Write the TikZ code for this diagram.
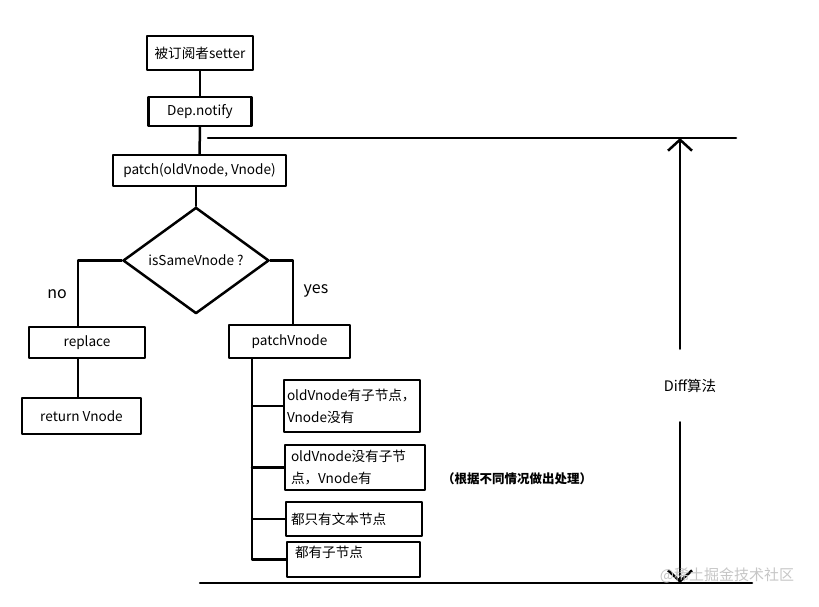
\documentclass[tikz,border=0pt]{standalone}
\usepackage{fontspec}
\setmainfont{Noto Sans CJK SC}
\usetikzlibrary{shapes.geometric,arrows.meta}

\begin{document}
\begin{tikzpicture}[x=1pt,y=-1pt,line cap=round,line join=round,line width=2.5pt,
  >={Straight Barb[length=11pt,width=24pt]},
  every node/.style={inner sep=3pt,font=\fontsize{13.6pt}{22pt}\selectfont},
  box/.style={draw,rectangle,align=center},
  leaf/.style={draw,rectangle,align=left,inner xsep=3pt},
  tag/.style={font=\fontsize{16pt}{16pt}\selectfont}]
  \useasboundingbox (0,0) rectangle (819,607);
  \node[box,minimum width=106pt,minimum height=34pt] (setter) at (200,53) {被订阅者setter};
  \node[box,minimum width=103pt,minimum height=29pt] (dep) at (200,111.5) {Dep.notify};
  \node[box,minimum width=173pt,minimum height=31pt] (patch) at (199.5,170.5) {patch(oldVnode, Vnode)};
  \node[draw,diamond,inner sep=0pt,minimum width=146pt,minimum height=87pt] (same) at (196,260.5) {isSameVnode ?};
  \node[box,minimum width=116pt,minimum height=31pt] (replace) at (87,342.5) {replace};
  \node[box,minimum width=119pt,minimum height=36pt] (ret) at (81.5,416) {return Vnode};
  \node[box,minimum width=121pt,minimum height=33pt] (pv) at (289.5,341.5) {patchVnode};
  \node[leaf,text width=130pt,minimum height=52pt] (c1) at (352,406) {oldVnode有子节点，\\Vnode没有};
  \node[leaf,text width=134pt,minimum height=45pt] (c2) at (355,467.5) {\hspace{3pt}oldVnode没有子节\\\hspace{3pt}点，Vnode有};
  \node[leaf,text width=130pt,minimum height=34pt] (c3) at (354,519) {\hspace{2pt}都只有文本节点};
  \node[leaf,text width=127pt,text height=12pt,text depth=17pt] (c4) at (353.5,559.5) {\hspace{5pt}都有子节点};
  \node[tag] (no) at (57,294) {no};
  \node[tag] (yes) at (316,291) {yes};
  \node[font=\bfseries\fontsize{12.5pt}{14pt}\selectfont] (note) at (517,479) {（根据不同情况做出处理）};
  \node[font=\fontsize{14.5pt}{14pt}\selectfont,inner sep=0pt,minimum height=71pt] (diff) at (690,385.5) {Diff算法};
  \coordinate (topL) at (208,138);
  \coordinate (topR) at (736,138);
  \coordinate (botL) at (200,583);
  \coordinate (botR) at (752,583);
  \coordinate (trunk) at ([xshift=-37.5pt]pv.south);
  \draw (setter) -- (dep);
  \draw (dep) -- (patch);
  \draw (same.north |- patch.south) -- (same.north);
  \draw (same.west) -| ([xshift=-9pt]replace.north);
  \draw (same.east) -| ([xshift=3.5pt]pv.north);
  \draw ([xshift=-9pt]replace.south) -- ([xshift=-9pt]replace.south |- ret.north);
  \draw (trunk) |- (c4.west);
  \foreach \c in {c1,c2,c3} {
    \draw (trunk |- \c.west) -- (\c.west);
  }
  \draw (topL) -- (topR);
  \draw (botL) -- (botR);
  \draw[->] ([xshift=-10pt]diff.north) -- ([xshift=-10pt]diff.north |- topL);
  \draw[->] ([xshift=-10pt]diff.south) -- ([xshift=-10pt]diff.south |- botL);
  \node[text=gray!45,font=\fontsize{15pt}{15pt}\selectfont] (mark) at (727,575) {@稀土掘金技术社区};
\end{tikzpicture}
\end{document}
